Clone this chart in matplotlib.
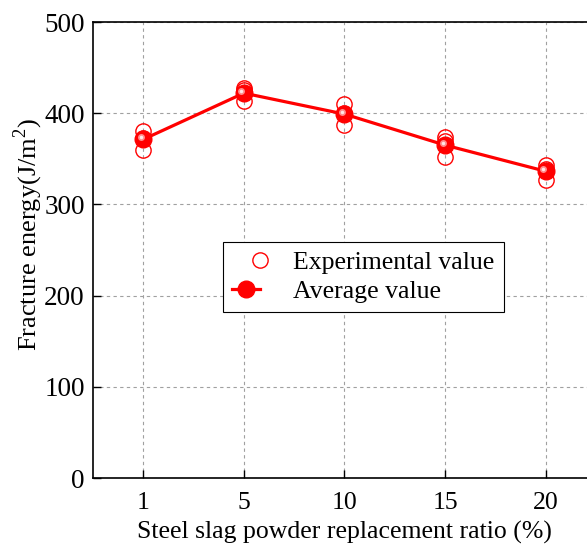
import matplotlib
matplotlib.use("Agg")
import matplotlib.pyplot as plt
import matplotlib.transforms as mtransforms
from matplotlib.lines import Line2D
from matplotlib.legend_handler import HandlerTuple
import numpy as np

plt.rcParams['font.family'] = ['Liberation Serif', 'DejaVu Serif']
plt.rcParams['mathtext.fontset'] = 'custom'
plt.rcParams['mathtext.rm'] = 'Liberation Serif'

# Steel slag powder replacement ratio (%) and fracture energy (J/m^2)
ratios = ["1", "5", "10", "15", "20"]
experimental = [
    [381, 373, 360],
    [428, 425, 413],
    [410, 400, 387],
    [374, 369, 352],
    [343, 339, 327],
]
average = [np.mean(v) for v in experimental]
y_ticks = [0, 100, 200, 300, 400, 500]

fig = plt.figure(figsize=(5.87, 5.48), dpi=100)
ax = fig.add_axes([93 / 587, 70 / 548, 503 / 587, 456 / 548])

pos = np.arange(len(ratios))
red = "#ff0000"

# Individual specimens as hollow circles
for i, vals in enumerate(experimental):
    ax.plot([pos[i]] * len(vals), vals, linestyle="none", marker="o",
            markersize=11, markerfacecolor="none", markeredgecolor=red,
            markeredgewidth=1.0, zorder=3)

# Mean line with shaded ball markers
ax.plot(pos, average, color=red, linewidth=2.3, marker="o", markersize=12,
        markerfacecolor=red, markeredgecolor=red, zorder=4)
shine = mtransforms.offset_copy(ax.transData, fig=fig, x=-2.5, y=2.0, units="dots")
ax.plot(pos, average, linestyle="none", marker="o", markersize=5,
        markerfacecolor="#ffffff", markeredgecolor="none", alpha=0.55,
        transform=shine, zorder=5)
ax.plot(pos, average, linestyle="none", marker="o", markersize=2.5,
        markerfacecolor="#ffffff", markeredgecolor="none", alpha=0.8,
        transform=shine, zorder=6)

ax.set_xlim(-0.5, len(ratios) - 0.5)
ax.set_ylim(0, 500)
ax.set_xticks(pos)
ax.set_xticklabels(ratios)
ax.set_yticks(y_ticks)

ax.grid(True, color="#a0a0a0", linestyle=(0, (3, 3)), linewidth=0.8)
ax.set_axisbelow(True)

ax.tick_params(axis="both", direction="in", length=6, width=1.0,
               colors="black")
ax.tick_params(axis="x", pad=10, labelsize=18.5)
ax.tick_params(axis="y", pad=6, labelsize=19.5)
for sp in ax.spines.values():
    sp.set_linewidth(1.2)

ax.set_xlabel("Steel slag powder replacement ratio (%)", fontsize=18.5, labelpad=5)
ax.set_ylabel(r"Fracture energy(J/m$^2$)", fontsize=19)
ax.yaxis.set_label_coords(-0.095, 0.535)

h_exp = Line2D([], [], linestyle="none", marker="o", markersize=11,
               markerfacecolor="none", markeredgecolor=red, markeredgewidth=1.0)
h_avg = Line2D([], [], color=red, linewidth=2.3, marker="o", markersize=12,
               markerfacecolor=red, markeredgecolor=red)
h_shine = Line2D([], [], linestyle="none", marker="o", markersize=5,
                 markerfacecolor="#ffffff", markeredgecolor="none", alpha=0.55)
leg = ax.legend([h_exp, (h_avg, h_shine)], ["Experimental value", "Average value"],
                handler_map={tuple: HandlerTuple(ndivide=None, pad=0)},
                loc="upper left", bbox_to_anchor=(0.258, 0.518),
                fontsize=18.5, frameon=True, fancybox=False, edgecolor="black",
                framealpha=1, borderpad=0.35, borderaxespad=0,
                handlelength=2.2, handletextpad=0.2, labelspacing=0.25)
leg.get_frame().set_linewidth(0.8)

fig.savefig("out.png", dpi=100)
